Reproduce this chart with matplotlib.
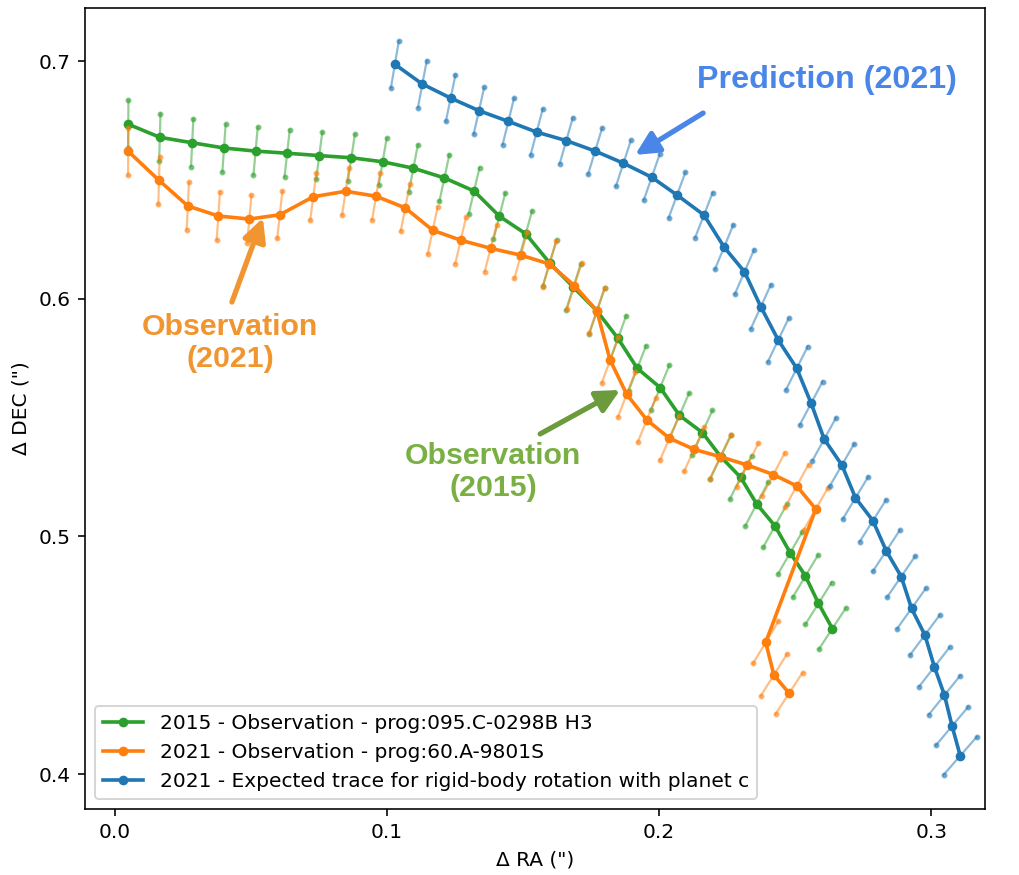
import numpy as np
import matplotlib
matplotlib.use("Agg")
import matplotlib.pyplot as plt

# Relative astrometry (arcsec) along the traced feature
ra_2015 = [0.0049, 0.0165, 0.0284, 0.0401, 0.0517, 0.0633, 0.0751, 0.0869, 0.0984, 0.1097,
           0.1211, 0.1320, 0.1413, 0.1510, 0.1598, 0.1685, 0.1772, 0.1849, 0.1920, 0.2004,
           0.2075, 0.2159, 0.2227, 0.2300, 0.2359, 0.2426, 0.2482, 0.2538, 0.2586, 0.2637]
dec_2015 = [0.6734, 0.6679, 0.6656, 0.6634, 0.6621, 0.6612, 0.6602, 0.6593, 0.6576, 0.6549,
            0.6508, 0.6453, 0.6347, 0.6273, 0.6150, 0.6049, 0.5948, 0.5833, 0.5707, 0.5626,
            0.5509, 0.5437, 0.5335, 0.5248, 0.5136, 0.5044, 0.4931, 0.4833, 0.4718, 0.4612]

ra_2021 = [0.0049, 0.0162, 0.0268, 0.0380, 0.0494, 0.0606, 0.0729, 0.0848, 0.0960, 0.1067,
           0.1168, 0.1271, 0.1381, 0.1492, 0.1597, 0.1689, 0.1771, 0.1820, 0.1881, 0.1955,
           0.2038, 0.2129, 0.2225, 0.2325, 0.2420, 0.2506, 0.2576, 0.2392, 0.2422, 0.2478]
dec_2021 = [0.6620, 0.6498, 0.6390, 0.6348, 0.6335, 0.6353, 0.6429, 0.6452, 0.6431, 0.6382,
            0.6288, 0.6246, 0.6212, 0.6183, 0.6146, 0.6055, 0.5950, 0.5742, 0.5598, 0.5490,
            0.5413, 0.5366, 0.5335, 0.5300, 0.5260, 0.5212, 0.5115, 0.4554, 0.4417, 0.4340]

ra_pred = [0.1029, 0.1130, 0.1234, 0.1338, 0.1446, 0.1550, 0.1659, 0.1765, 0.1869, 0.1973,
           0.2066, 0.2165, 0.2239, 0.2314, 0.2374, 0.2438, 0.2506, 0.2559, 0.2607, 0.2672,
           0.2722, 0.2786, 0.2835, 0.2890, 0.2928, 0.2977, 0.3012, 0.3049, 0.3077, 0.3107]
dec_pred = [0.6986, 0.6903, 0.6844, 0.6791, 0.6746, 0.6701, 0.6665, 0.6621, 0.6570, 0.6511,
            0.6436, 0.6352, 0.6217, 0.6113, 0.5966, 0.5826, 0.5707, 0.5560, 0.5409, 0.5300,
            0.5162, 0.5066, 0.4939, 0.4831, 0.4697, 0.4585, 0.4451, 0.4332, 0.4202, 0.4077]

# Radial (separation) uncertainty in arcsec
sep_err = 0.01

series = [
    (ra_2015, dec_2015, "tab:green", "2015 - Observation - prog:095.C-0298B H3"),
    (ra_2021, dec_2021, "tab:orange", "2021 - Observation - prog:60.A-9801S"),
    (ra_pred, dec_pred, "tab:blue", "2021 - Expected trace for rigid-body rotation with planet c"),
]

fig = plt.figure(figsize=(1019 / 145, 875 / 145), dpi=145)
ax = fig.add_axes([85 / 1019, 1 - 809 / 875, 900 / 1019, 801 / 875])

for ra, dec, color, label in series:
    ra = np.asarray(ra)
    dec = np.asarray(dec)
    r = np.hypot(ra, dec)
    ux, uy = ra / r, dec / r
    # radial error bars with dotted ends
    for x, y, dx, dy in zip(ra, dec, ux * sep_err, uy * sep_err):
        ax.plot([x - dx, x + dx], [y - dy, y + dy], color=color, lw=1.1,
                alpha=0.5, marker="o", ms=2.0)
    ax.plot(ra, dec, color=color, lw=1.8, marker="o", ms=3.8, label=label)

ax.set_xlim(-0.011, 0.3198)
ax.set_ylim(0.3853, 0.7223)
ax.set_xticks([0.0, 0.1, 0.2, 0.3])
ax.set_yticks([0.4, 0.5, 0.6, 0.7])
ax.set_xlabel('Δ RA (")')
ax.set_ylabel('Δ DEC (")')

ax.legend(loc="lower left")

bold = dict(family=["Liberation Sans", "DejaVu Sans"], fontweight="bold", ha="center", va="center")
arrow = dict(arrowstyle="-|>", lw=2.6, mutation_scale=24, shrinkA=0, shrinkB=0)

ax.text(0.2618, 0.6920, "Prediction (2021)", color="#4a86e8", fontsize=16, **bold)
ax.annotate("", xy=(0.1912, 0.6605), xytext=(0.2162, 0.6781),
            arrowprops=dict(color="#4a86e8", **arrow))

ax.text(0.0423, 0.5814, "Observation\n(2021)", color="#f0952f", fontsize=15,
        linespacing=1.15, **bold)
ax.annotate("", xy=(0.0544, 0.6340), xytext=(0.0430, 0.5986),
            arrowprops=dict(color="#f0952f", **arrow))

ax.text(0.1390, 0.5271, "Observation\n(2015)", color="#7ab043", fontsize=15,
        linespacing=1.15, **bold)
ax.annotate("", xy=(0.1857, 0.5616), xytext=(0.1563, 0.5431),
            arrowprops=dict(color="#6c9b3e", **arrow))

fig.savefig("out.png", dpi=145)
